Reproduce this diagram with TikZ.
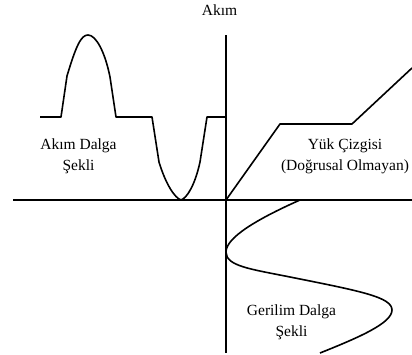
\documentclass[tikz,border=0pt]{standalone}
\usepackage{fontspec}
\setmainfont{Liberation Serif}
\usepackage{tikz}
\usetikzlibrary{positioning, calc}
\tikzset{
    axisline/.style={line width=1.6pt, draw=black},
    wave/.style={line width=1.6pt, draw=black, line join=round},
    plotlbl/.style={align=center, inner sep=0pt, font=\fontsize{15.5}{21}\selectfont},
}

\begin{document}
\begin{tikzpicture}[x=1pt, y=-1pt]
        \useasboundingbox (0,0) rectangle (412,354);
        % axes
        \coordinate (orig) at (226,200);
        \coordinate (xleft) at (13,200);
        \coordinate (xright) at (412,200);
        \coordinate (ytop) at (226,35);
        \coordinate (ybot) at (226,353);
        \draw[axisline] (xleft) -- (xright);
        \draw[axisline] (ytop) -- (ybot);
        \node[plotlbl, anchor=base] (ylbl) at (219.5,15) {Akım};
        % current waveform
        \draw[wave] (40,117) -- (61,117) -- (67,76)
            .. controls (76,46) and (81,35) .. (88,35)
            .. controls (96,35) and (105,52) .. (110,77)
            -- (116,117) -- (152,117) -- (159,162)
            .. controls (166,185) and (175,198) .. (181,200)
            .. controls (187,198) and (195,185) .. (200,162)
            -- (207,117) -- (orig |- 0,117);
        % nonlinear load line
        \draw[wave] (orig) -- (280,124) -- (352,124) -- (412,68);
        % voltage waveform
        \draw[wave] (300,200)
            .. controls (255,220) and (226,238) .. (226,252)
            .. controls (226,266) and (250,269) .. (290,277)
            .. controls (360,291) and (392,297) .. (392,310)
            .. controls (392,323) and (360,337) .. (320,353);
        \node[plotlbl] (curlbl) at (78.5,156) {Akım Dalga\\Şekli};
        \node[plotlbl] (loadlbl) at (345,156) {Yük Çizgisi\\(Doğrusal Olmayan)};
        \node[plotlbl] (vollbl) at (291.5,322) {Gerilim Dalga\\Şekli};
    \end{tikzpicture}
\end{document}
